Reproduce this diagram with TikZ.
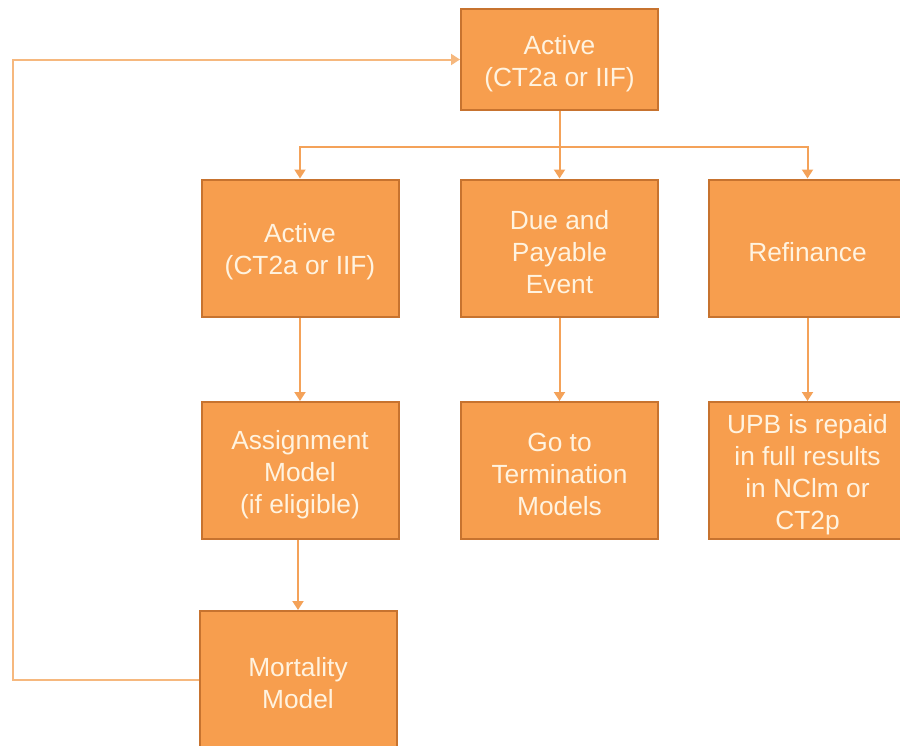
\documentclass[tikz,border=0pt]{standalone}
\usepackage{fontspec}
\setmainfont{Liberation Sans}
\usetikzlibrary{arrows.meta}
\definecolor{boxfill}{HTML}{F79E4E}
\definecolor{boxline}{HTML}{C7732F}
\definecolor{boxtext}{HTML}{FFF3E0}
\definecolor{flowline}{HTML}{F4A259}
\definecolor{loopline}{HTML}{F6B87E}
\begin{document}
\begin{tikzpicture}[x=1pt,y=-1pt,
	stepbox/.style={draw=boxline, line width=2pt, fill=boxfill,
		minimum width=197pt, minimum height=137pt},
	steptext/.style={text=boxtext, inner sep=0pt, align=center, yshift=-4pt,
		font=\fontsize{26.3}{32}\selectfont},
	flow/.style={draw=flowline, line width=2pt, -{Triangle[length=9pt,width=11pt]}},
	loopflow/.style={flow, draw=loopline}]
	\useasboundingbox (0,0) rectangle (900,745);
	% boxes
	\node[stepbox, minimum height=101pt] (active) at (559.5,59.5) {};
	\node[stepbox] (stay) at (300,248) {};
	\node[stepbox] (due) at (559.5,248) {};
	\node[stepbox] (refi) at (807.5,248) {};
	\node[stepbox] (assign) at (300,470.5) {};
	\node[stepbox] (term) at (559.5,470.5) {};
	\node[stepbox] (repaid) at (807.5,470.5) {};
	\node[stepbox] (mort) at (298,679.5) {};
	% texts
	\node[steptext] (activetext) at (active) {Active\\(CT2a or IIF)};
	\node[steptext] (staytext) at (stay) {Active\\(CT2a or IIF)};
	\node[steptext] (duetext) at (due) {Due and\\Payable\\Event};
	\node[steptext] (refitext) at (refi) {Refinance};
	\node[steptext] (assigntext) at (assign) {Assignment\\Model\\(if eligible)};
	\node[steptext] (termtext) at (term) {Go to\\Termination\\Models};
	\node[steptext] (repaidtext) at (repaid) {UPB is repaid\\in full results\\in NClm or\\CT2p};
	\node[steptext] (morttext) at (mort) {Mortality\\Model};
	% connectors
	\coordinate (split) at (559.5,147);
	\coordinate (back) at (13,679.5);
	\draw[draw=flowline, line width=2pt] (active.south) -- (split);
	\draw[flow] (split) -| (stay.north);
	\draw[flow] (split) -- (due.north);
	\draw[flow] (split) -| (refi.north);
	\draw[flow] (stay.south) -- (assign.north);
	\draw[flow] (due.south) -- (term.north);
	\draw[flow] (refi.south) -- (repaid.north);
	\draw[flow] (assign.south -| mort.north) -- (mort.north);
	\draw[loopflow] (mort.west) -- (back) |- (active.west);
\end{tikzpicture}
\end{document}
